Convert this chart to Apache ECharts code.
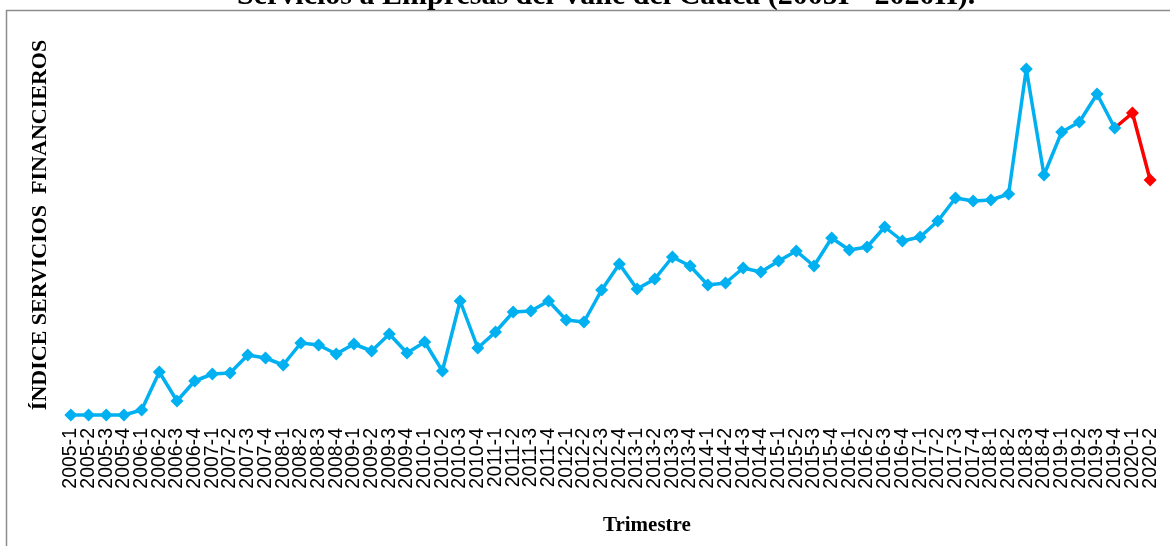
<!DOCTYPE html>
<html>
<head>
<meta charset="utf-8">
<script src="https://cdn.jsdelivr.net/npm/echarts@6/dist/echarts.min.js"></script>
<style>
  html, body { margin: 0; padding: 0; background: #fff; }
  #main { width: 1170px; height: 546px; }
</style>
</head>
<body>
<div id="main"></div>
<script>
// trimestres 2005-1 ... 2020-2
const trimestres = [
  '2005-1','2005-2','2005-3','2005-4','2006-1','2006-2','2006-3','2006-4',
  '2007-1','2007-2','2007-3','2007-4','2008-1','2008-2','2008-3','2008-4',
  '2009-1','2009-2','2009-3','2009-4','2010-1','2010-2','2010-3','2010-4',
  '2011-1','2011-2','2011-3','2011-4','2012-1','2012-2','2012-3','2012-4',
  '2013-1','2013-2','2013-3','2013-4','2014-1','2014-2','2014-3','2014-4',
  '2015-1','2015-2','2015-3','2015-4','2016-1','2016-2','2016-3','2016-4',
  '2017-1','2017-2','2017-3','2017-4','2018-1','2018-2','2018-3','2018-4',
  '2019-1','2019-2','2019-3','2019-4','2020-1','2020-2'
];

// indice servicios financieros
const indice = [
  100, 100, 100, 100, 105, 143, 114, 134,
  141, 142, 160, 157, 150, 172, 170, 161,
  171, 164, 181, 162, 173, 144, 214, 167,
  183, 203, 204, 214, 195, 193, 225, 251,
  226, 236, 258, 249, 230, 232, 247, 243,
  254, 264, 249, 277, 265, 268, 288, 274,
  278, 294, 317, 314, 315, 321, 446, 340,
  383, 393, 421, 387, 402, 335
];

// los ultimos trimestres van en rojo (desde 2019-4)
const corteRojo = 59;

const serieAzul = indice.slice(0, corteRojo + 1);
const serieRoja = indice.map((v, i) => {
  if (i < corteRojo) return '-';
  if (i === corteRojo) return { value: v, symbol: 'none' };
  return v;
});

const serif = "'Times New Roman', 'Liberation Serif', serif";
const sans = "Arial, 'Liberation Sans', sans-serif";

const myChart = echarts.init(document.getElementById('main'));

const option = {
  backgroundColor: '#ffffff',
  animation: false,
  title: [
    {
      text: 'Servicios a Empresas del Valle del Cauca (2005I - 2020II).',
      left: 232,
      top: -24,
      textStyle: { fontFamily: serif, fontWeight: 'bold', fontSize: 30, color: '#000' }
    },
    {
      text: 'Trimestre',
      left: 598,
      top: 510,
      textStyle: { fontFamily: serif, fontWeight: 'bold', fontSize: 21, color: '#000' }
    }
  ],
  graphic: [
    {
      type: 'rect',
      shape: { x: 6.5, y: 10.5, width: 2000, height: 2000 },
      style: { fill: 'none', stroke: '#8c8c8c', lineWidth: 1.5 },
      silent: true
    },
    {
      type: 'text',
      x: 40,
      y: 225,
      rotation: Math.PI / 2,
      style: {
        text: 'ÍNDICE SERVICIOS  FINANCIEROS',
        font: 'bold 22px ' + serif,
        fill: '#000',
        align: 'center',
        verticalAlign: 'middle'
      }
    }
  ],
  grid: {
    left: 62,
    right: 11,
    top: 38,
    bottom: 118
  },
  xAxis: {
    type: 'category',
    data: trimestres,
    boundaryGap: true,
    axisLine: { show: false },
    axisTick: { show: false },
    axisLabel: {
      interval: 0,
      rotate: 90,
      margin: 0,
      fontFamily: sans,
      fontSize: 19.5,
      color: '#000'
    }
  },
  yAxis: {
    type: 'value',
    min: 87,
    max: 477,
    axisLine: { show: false },
    axisTick: { show: false },
    axisLabel: { show: false },
    splitLine: { show: false }
  },
  series: [
    {
      name: 'rojo',
      type: 'line',
      data: serieRoja,
      symbol: 'diamond',
      symbolSize: 13,
      lineStyle: { color: '#ff0000', width: 3.5 },
      itemStyle: { color: '#ff0000' },
      z: 2
    },
    {
      name: 'azul',
      type: 'line',
      data: serieAzul,
      symbol: 'diamond',
      symbolSize: 13,
      lineStyle: { color: '#00b0f0', width: 3.5 },
      itemStyle: { color: '#00b0f0' },
      z: 3
    }
  ]
};

myChart.setOption(option);
</script>
</body>
</html>
